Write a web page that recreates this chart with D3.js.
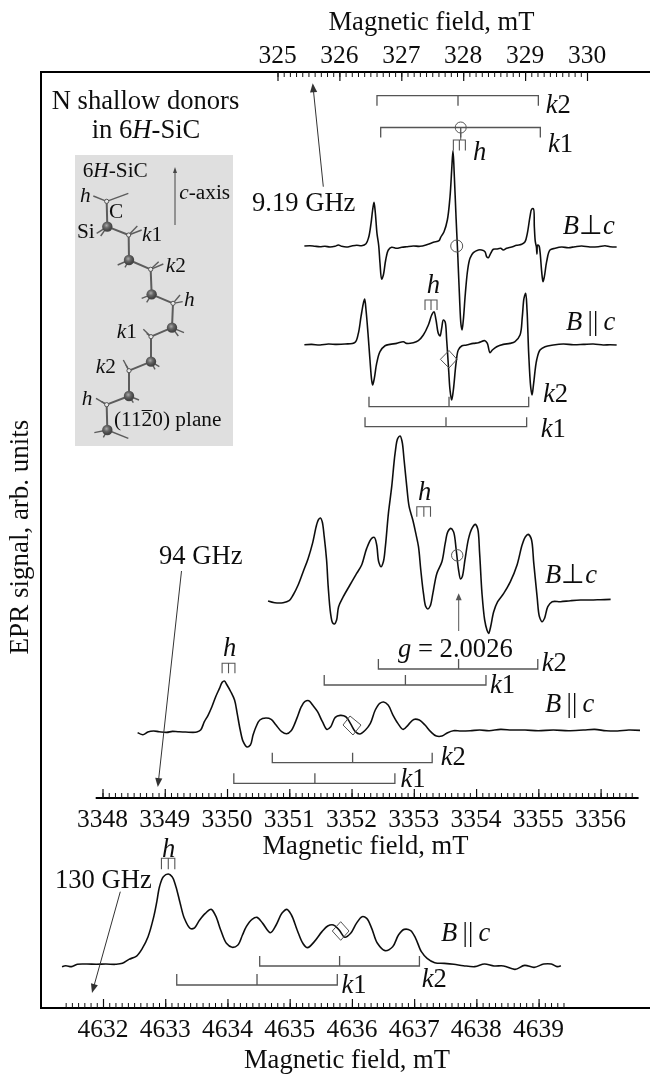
<!DOCTYPE html>
<html><head><meta charset="utf-8">
<script src="https://cdn.jsdelivr.net/npm/d3@7"></script>
<style>html,body{margin:0;background:#fff}svg{display:block}text{font-family:"Liberation Serif",serif;fill:#111}</style>
</head><body><div id="c"></div>
<script>
// ---- tick labels
const topTicks=[325,326,327,328,329,330];
const midTicks=[3348,3349,3350,3351,3352,3353,3354,3355,3356];
const botTicks=[4632,4633,4634,4635,4636,4637,4638,4639];
// ---- 9.19 GHz, B perp c
const f1=[325.434,325.525,325.606,325.687,325.767,325.848,325.929,325.983,326.037,326.117,326.198,326.279,326.360,326.430,326.473,326.511,326.537,326.559,326.581,326.607,326.634,326.656,326.683,326.710,326.748,326.791,326.844,326.925,327.006,327.087,327.194,327.302,327.410,327.518,327.609,327.636,327.690,327.744,327.787,327.814,327.835,327.857,327.884,327.911,327.938,327.965,327.981,328.002,328.035,328.072,328.110,328.164,328.245,328.298,328.352,328.379,328.406,328.444,328.487,328.541,328.605,328.648,328.702,328.783,328.864,328.945,328.999,329.036,329.079,329.106,329.133,329.149,329.165,329.182,329.192,329.203,329.225,329.241,329.268,329.289,329.311,329.348,329.402,329.483,329.591,329.699,329.806,329.914,330.049,330.183,330.291,330.372,330.479];
const s1=[0,.3,-.3,-.7,-.3,-1,-.3,1,-.3,-1,0,.7,.3,2.3,8.7,22.7,36,43.7,32.7,12.7,1,-17.3,-33.3,-29,-14,-4,-1.3,-2.3,-1.3,-.7,0,-.3,1.3,3.7,5.3,8.7,14.3,26,49.3,76,95.3,69.3,29.3,-7.3,-47.3,-79,-84,-74,-47.3,-24,-12.3,-6.7,-4,-4,-5.7,-10.7,-11.7,-7.3,-3.3,-3,-2.3,-4,-2.3,-1,.7,1.7,4.3,12.7,29.3,36.7,37.3,19.3,4.3,-.7,-8,1,0,-5.7,-25.7,-35.7,-30.7,-15.7,-4,-2.3,-1,-1.7,-.7,0,-1,-.7,.3,-.7,-1];
// ---- 9.19 GHz, B par c
const f2=[325.434,325.552,325.687,325.821,325.956,326.091,326.252,326.306,326.349,326.387,326.408,326.430,326.462,326.494,326.521,326.537,326.564,326.602,326.656,326.737,326.818,326.925,327.033,327.087,327.194,327.275,327.356,327.437,327.491,327.528,327.561,327.598,327.625,327.652,327.679,327.706,327.733,327.765,327.787,327.814,327.841,327.884,327.921,327.975,328.056,328.164,328.245,328.352,328.390,328.433,328.471,328.541,328.648,328.756,328.837,328.918,328.955,328.982,329.009,329.031,329.058,329.090,329.112,329.138,329.187,329.241,329.322,329.456,329.618,329.779,329.941,330.102,330.264,330.372,330.479];
const s2=[0,.3,-.3,.7,.3,.7,2.3,11.3,28,41.3,45.7,34.7,11.3,-15.3,-35.3,-40.3,-33.7,-18.7,-7,-1,.3,1.3,3,1.3,2,4,9.7,19.7,29.7,33,24.7,11.3,8.7,16.3,24.7,23,4.7,-25.3,-45.3,-55.3,-45.3,-18.7,-5.3,-1.3,-.3,1.3,2,4,1.3,-8,-5.3,-2,.3,1.3,3,9.7,28,46.3,51.3,34.7,-8.7,-42,-50.3,-38.7,-15.3,-5.3,-2,-.3,.7,0,.3,.7,-.3,0,-.3];
// ---- 94 GHz, B perp c
const f3=[3350.659,3350.767,3350.901,3350.997,3351.062,3351.142,3351.223,3351.303,3351.373,3351.438,3351.470,3351.502,3351.529,3351.561,3351.599,3351.625,3351.663,3351.695,3351.727,3351.760,3351.792,3351.867,3351.974,3352.082,3352.162,3352.243,3352.323,3352.366,3352.404,3352.436,3352.474,3352.511,3352.543,3352.592,3352.645,3352.699,3352.742,3352.780,3352.812,3352.844,3352.887,3352.925,3352.984,3353.032,3353.075,3353.112,3353.155,3353.193,3353.225,3353.263,3353.306,3353.370,3353.451,3353.504,3353.547,3353.595,3353.638,3353.681,3353.719,3353.751,3353.778,3353.821,3353.880,3353.934,3353.987,3354.025,3354.057,3354.095,3354.138,3354.175,3354.202,3354.234,3354.283,3354.347,3354.444,3354.551,3354.658,3354.739,3354.793,3354.836,3354.884,3354.927,3354.980,3355.018,3355.061,3355.099,3355.152,3355.222,3355.356,3355.517,3355.678,3355.839,3356.000,3356.161];
const s3=[.7,-1,-1,1,6.7,16.7,30,43.3,58.3,76.7,82.3,83.7,80,65,41.7,15,-11.7,-21,-22.3,-18.3,-5,5,16.7,28.3,36.7,53.3,63.3,64.3,56.7,40,35,40,55,88.3,115,148.3,163.3,165.7,160,141.7,115,95,81.7,68.3,55,31.7,8.3,-5,-7.3,-4.3,8.3,28.3,40,58.3,70,73.3,70,51.7,31.7,22.7,25,41.7,63.3,73.3,77.3,73.3,48.3,8.3,-18.3,-28.3,-31.7,-25,-10,0,8.3,20,36.7,56.7,65,67.3,63.3,38.3,5,-15,-20,-16.7,-5,0,0,1,1.7,1.7,2,2.3];
// ---- 94 GHz, B par c
const f4=[3348.564,3348.649,3348.728,3348.819,3348.909,3349.031,3349.121,3349.212,3349.333,3349.515,3349.576,3349.636,3349.697,3349.757,3349.818,3349.879,3349.921,3349.957,3350.000,3350.060,3350.121,3350.163,3350.212,3350.260,3350.321,3350.375,3350.418,3350.466,3350.527,3350.624,3350.709,3350.787,3350.878,3350.957,3351.030,3351.121,3351.193,3351.254,3351.314,3351.375,3351.454,3351.532,3351.605,3351.666,3351.738,3351.817,3351.908,3351.981,3352.060,3352.132,3352.223,3352.302,3352.381,3352.453,3352.514,3352.587,3352.665,3352.744,3352.829,3352.908,3352.999,3353.089,3353.180,3353.271,3353.362,3353.453,3353.544,3353.635,3353.756,3353.907,3354.059,3354.210,3354.392,3354.574,3354.786,3354.998,3355.240,3355.482,3355.725,3355.906,3356.088,3356.270,3356.452,3356.633];
const s4=[-1.1,-3.4,-.4,.8,0,-.8,.4,0,-.4,-.4,1.9,11.3,18.8,28.2,39.5,48.9,55.7,57.2,52.7,45.1,35.7,20.7,1.9,-11.3,-17.3,-15,-3.8,5.6,13.2,15.4,13.9,7.5,0,-2.3,1.1,15,28.2,34.2,35,30.1,22.6,11.3,2.6,5.6,16.2,18.4,16.9,9.4,0,-2.6,1.9,9.4,24.5,32,33.5,30.1,18.8,9.4,2.6,7.5,13.9,13.2,7.5,0,-4.9,-4.9,-1.1,1.1,.8,1.1,1.9,1.1,2.6,1.9,1.9,1.1,1.9,1.1,1.9,2.6,1.1,.8,1.9,1.5];
// ---- 130 GHz, B par c
const f5=[4631.342,4631.403,4631.495,4631.587,4631.741,4631.895,4632.048,4632.202,4632.312,4632.417,4632.540,4632.632,4632.724,4632.816,4632.865,4632.908,4632.970,4633.049,4633.111,4633.172,4633.234,4633.307,4633.400,4633.461,4633.553,4633.645,4633.738,4633.811,4633.891,4633.983,4634.075,4634.168,4634.241,4634.303,4634.395,4634.475,4634.567,4634.690,4634.782,4634.874,4634.954,4635.028,4635.120,4635.212,4635.286,4635.396,4635.519,4635.611,4635.703,4635.795,4635.888,4635.980,4636.072,4636.164,4636.238,4636.318,4636.410,4636.533,4636.655,4636.748,4636.840,4636.944,4637.024,4637.116,4637.208,4637.331,4637.485,4637.638,4637.792,4637.976,4638.130,4638.283,4638.437,4638.621,4638.775,4638.928,4639.082,4639.205,4639.297,4639.358];
const s5=[-1.9,-.8,-1.9,.8,1.1,.8,1.1,.8,1.9,6.5,10.3,19.1,32.5,55.5,72.7,89.9,101.4,104.5,101.4,89.9,72.7,53.6,42.1,42.1,51.7,59.3,63.9,56.3,40.2,24.9,20.3,23,34.4,44,52.4,54.7,47.8,37.1,45.9,59.3,63.9,57.4,40.2,24.9,19.9,26.8,38.3,44.8,45.9,40.2,31.8,36.4,47.8,55.5,53.6,42.1,24.9,16.5,21,34.4,40.9,39.4,30.6,15.3,7.7,2.7,1.9,.8,-.8,-1.9,1.1,-1.1,-1.1,-5,-.4,-2.7,1.1,1.1,-1.9,-.8];
// ---- stick diagrams (field, mT)
const top_k2=[326.607,327.916,329.214], top_k1=[326.667,327.96,329.246], top_h=[327.841,327.938,328.035];
const par9_k2=[326.478,327.771,329.058], par9_k1=[326.414,327.722,329.025], par9_h=[327.383,327.480,327.577];
const per94_k2=[3352.431,3353.719,3354.991], per94_k1=[3351.561,3352.865,3354.159], per94_h=[3353.048,3353.161,3353.268];
const par94_k2=[3350.727,3352.017,3353.295], par94_k1=[3350.109,3351.411,3352.696], par94_h=[3349.921,3350.024,3350.127];
const par130_k2=[4634.518,4635.802,4637.085], par130_k1=[4633.185,4634.475,4635.765], par130_h=[4632.939,4633.049,4633.154];
// ---- inset lattice (inset units)
const atomsC=[[320,604],[386,705],[452,808],[519,910],[453,1010],[387,1112],[320,1214]];
const atomsSi=[[322,680],[387,780],[455,883],[516,983],[453,1085],[387,1188],[322,1290]];
const stubs=[[320,604,280,588],[320,604,385,580],[322,680,290,700],[322,680,302,708],[386,705,412,678],[386,705,425,690],[387,780,353,795],[387,780,375,802],[452,808,476,785],[452,808,490,792],[455,883,425,895],[455,883,440,907],[519,910,540,885],[519,910,548,905],[516,983,552,998],[516,983,535,1008],[453,1010,430,988],[453,1010,440,1000],[453,1085,478,1100],[453,1085,465,1108],[387,1112,370,1080],[387,1112,378,1095],[387,1188,417,1200],[387,1188,400,1208],[320,1214,288,1195],[320,1214,305,1205],[322,1290,283,1298],[322,1290,385,1315],[322,1290,310,1312]];

const W=650,H=1074;
const root=d3.select("#c").append("svg").attr("width",W).attr("height",H);
const defs0=root.append("defs");
defs0.append("filter").attr("id","soft").attr("x",0).attr("y",0).attr("width",1).attr("height",1).attr("filterUnits","userSpaceOnUse")
  .attr("width",W).attr("height",H).append("feGaussianBlur").attr("stdDeviation",.35);
const svg=root.append("g").attr("filter","url(#soft)");
svg.append("rect").attr("width",W).attr("height",H).attr("fill","#fff");
const xTop=d3.scaleLinear().domain([325,330]).range([277.5,587]);
const xMid=d3.scaleLinear().domain([3348,3356]).range([102.5,600.6]);
const xBot=d3.scaleLinear().domain([4632,4639]).range([103,538.6]);
const yS=(base,k)=>d3.scaleLinear().domain([0,100]).range([base,base-100*k]);

// inset
const inset=svg.append("g");
inset.append("rect").attr("x",75).attr("y",155).attr("width",158).attr("height",291).attr("fill","#dfdfdf");
const iu=d3.scaleLinear().domain([0,300]).range([0,100]);
const chain=[];atomsC.forEach((c,i)=>{chain.push(c,atomsSi[i]);});
inset.append("path").attr("d",d3.line().x(d=>iu(d[0])).y(d=>iu(d[1]))(chain)).attr("fill","none").attr("stroke","#5c5c5c").attr("stroke-width",2);
inset.selectAll(".st").data(stubs).join("line").attr("x1",d=>iu(d[0])).attr("y1",d=>iu(d[1])).attr("x2",d=>iu(d[2])).attr("y2",d=>iu(d[3])).attr("stroke","#5c5c5c").attr("stroke-width",1.4);
const grad=defs0.append("radialGradient").attr("id","si").attr("cx","42%").attr("cy","38%");
grad.append("stop").attr("offset","0%").attr("stop-color","#aaa");
grad.append("stop").attr("offset","50%").attr("stop-color","#666");
grad.append("stop").attr("offset","100%").attr("stop-color","#444");
inset.selectAll(".si").data(atomsSi).join("circle").attr("cx",d=>iu(d[0])).attr("cy",d=>iu(d[1])).attr("r",5.2).attr("fill","url(#si)");
inset.selectAll(".cc").data(atomsC).join("circle").attr("cx",d=>iu(d[0])).attr("cy",d=>iu(d[1])).attr("r",2.1).attr("fill","#e8e8e8").attr("stroke","#555").attr("stroke-width",1);

// frame
svg.append("path").attr("d","M650,72H41V1008H650").attr("fill","none").attr("stroke","#000").attr("stroke-width",2);
svg.append("line").attr("x1",95.7).attr("x2",638.6).attr("y1",798).attr("y2",798).attr("stroke","#000").attr("stroke-width",2);

function ticks(scale,y,axisFn,from,to,labels,labelY){
  const minors=d3.range(Math.round((to-from)*10)+1).map(i=>+(from+i/10).toFixed(1));
  const g=svg.append("g").attr("transform",`translate(0,${y})`);
  g.call(axisFn(scale).tickValues(minors).tickSize(5).tickFormat(""));
  g.select(".domain").remove();
  g.selectAll("line").attr("stroke","#111").attr("stroke-width",1);
  const G=svg.append("g").attr("transform",`translate(0,${y})`);
  G.call(axisFn(scale).tickValues(labels).tickSize(9).tickFormat(""));
  G.select(".domain").remove();
  G.selectAll("line").attr("stroke","#111").attr("stroke-width",1.2);
  svg.selectAll(null).data(labels).join("text").attr("x",d=>scale(d)).attr("y",labelY).attr("text-anchor","middle").attr("font-size",25.5).text(d=>d);
}
ticks(xTop,72,d3.axisBottom,325,330,topTicks,62.7);
ticks(xMid,798,d3.axisTop,3348,3356.5,midTicks,826.7);
ticks(xBot,1008,d3.axisTop,4631.4,4639.4,botTicks,1037);

// traces
function trace(f,s,xs,ys){
  const pts=f.map((v,i)=>[v,s[i]]).filter(d=>d[1]!==undefined);
  svg.append("path").attr("d",d3.line().x(d=>xs(d[0])).y(d=>ys(d[1])).curve(d3.curveCatmullRom.alpha(.5))(pts))
    .attr("fill","none").attr("stroke","#111").attr("stroke-width",1.6).attr("stroke-linejoin","round");
}
trace(f1,s1,xTop,yS(246,1));
trace(f2,s2,xTop,yS(344.7,1));
trace(f3,s3,xMid,yS(601.7,1));
trace(f4,s4,xMid,yS(731.7,.886));
trace(f5,s5,xBot,yS(965,.871));

// stick diagrams
function bracket(v,xs,y,dy){
  svg.append("path").attr("d",`M${xs(v[0])},${y+dy}V${y}H${xs(v[2])}V${y+dy}M${xs(v[1])},${y}V${y+dy}`)
    .attr("fill","none").attr("stroke","#555").attr("stroke-width",1.3);
}
function comb(v,xs,y,h){
  svg.append("path").attr("d",`M${xs(v[0])},${y+h}V${y}H${xs(v[2])}V${y+h}M${xs(v[1])},${y}V${y+h}`)
    .attr("fill","none").attr("stroke","#555").attr("stroke-width",1.1);
}
bracket(top_k2,xTop,95.7,10);bracket(top_k1,xTop,127.5,10);comb(top_h,xTop,140,10.5);
bracket(par9_k2,xTop,406.7,-10);bracket(par9_k1,xTop,426.7,-9.5);comb(par9_h,xTop,300,10);
bracket(per94_k2,xMid,669,-10);bracket(per94_k1,xMid,685,-10);comb(per94_h,xMid,506.7,10);
bracket(par94_k2,xMid,762.7,-10);bracket(par94_k1,xMid,783.3,-10);comb(par94_h,xMid,663.3,10);
bracket(par130_k2,xBot,966,-10);bracket(par130_k1,xBot,985,-11);comb(par130_h,xBot,858.3,11);

// circles & diamonds
function circ(x,y,r){svg.append("circle").attr("cx",x).attr("cy",y).attr("r",r).attr("fill","none").attr("stroke","#555").attr("stroke-width",1);}
circ(xTop(327.96),127.5,5.5);circ(xTop(327.895),246,6);circ(xMid(3353.697),555.3,5.7);
svg.append("line").attr("x1",xTop(327.96)).attr("x2",xTop(327.96)).attr("y1",133).attr("y2",140).attr("stroke","#555");
function poly(pts){svg.append("path").attr("d","M"+pts.map(p=>p.join(",")).join("L")+"Z").attr("fill","none").attr("stroke","#555").attr("stroke-width",1);}
poly([[440.4,359.3],[449,350.5],[457,359.3],[449,368]]);
poly([[343,725],[350,716],[361,725],[353,735]]);
poly([[332.3,931],[340.7,921.7],[349,931],[340.7,940.3]]);

// arrows
function arrow(x1,y1,x2,y2,col,hl,hw){
  const a=Math.atan2(y2-y1,x2-x1),c=Math.cos(a),s=Math.sin(a);
  svg.append("line").attr("x1",x1).attr("y1",y1).attr("x2",x2-c*hl*.7).attr("y2",y2-s*hl*.7).attr("stroke",col).attr("stroke-width",1);
  svg.append("path").attr("d",`M${x2},${y2}L${x2-c*hl-s*hw},${y2-s*hl+c*hw}L${x2-c*hl+s*hw},${y2-s*hl-c*hw}Z`).attr("fill",col);
}
arrow(323.3,186.7,312.7,83.3,"#333",9,3.6);
arrow(181.5,571,157.8,787,"#333",9,3.6);
arrow(120.3,891.7,92,993,"#333",9,3.6);
arrow(458.7,631,458.7,593.3,"#555",7,3);
arrow(175,225,175,167,"#444",6,2);

// text
function label(x,y,parts,size,anchor){
  const t=svg.append("text").attr("x",x).attr("y",y).attr("font-size",size||26.6).attr("text-anchor",anchor||"start");
  parts.forEach(p=>{const s=t.append("tspan").text(p[0]);if(p[1]===1)s.attr("font-style","italic");});
  return t;
}
label(431.5,30,[["Magnetic field, mT",0]],26.6,"middle");
label(365.5,854,[["Magnetic field, mT",0]],26.6,"middle");
label(347,1068,[["Magnetic field, mT",0]],26.6,"middle");
svg.append("text").attr("transform","translate(28,537) rotate(-90)").attr("text-anchor","middle").attr("font-size",27).text("EPR signal, arb. units");
label(51.7,108.7,[["N shallow donors",0]]);
label(91.7,138,[["in 6",0],["H",1],["-SiC",0]]);
label(252,211,[["9.19 GHz",0]]);
label(159,564,[["94 GHz",0]]);
label(55,888,[["130 GHz",0]]);
const k2=[["k",1],["2",0]],k1=[["k",1],["1",0]],h=[["h",1]];
label(545.7,113,k2);label(548,151.7,k1);label(473,160,h);
label(426.7,293,h);label(543,401.7,k2);label(540.7,436.7,k1);
const perp=[["B",1],["\u22A5",0],["c",1]],par=[["B",1],["\u2009||\u2009",0],["c",1]];
label(562.7,234,perp);label(566,330,par);
label(418,500,h);label(545,582.7,perp);
label(398,656.7,[["g",1],[" = 2.0026",0]]);
label(541.7,670.7,k2);label(490,693,k1);
label(545,711.7,par);label(223,656,h);
label(440.7,765,k2);label(400.5,786.7,k1);
label(162,856.5,h);label(441,940.7,par);label(341.5,992.7,k1);label(421.8,987,k2);
// inset text
const S=21.3;
label(82.7,176.7,[["6",0],["H",1],["-SiC",0]],S);
label(179.3,199.3,[["c",1],["-axis",0]],S);
label(80,201.7,h,S);label(109,218.3,[["C",0]],S);label(77,238.3,[["Si",0]],S);
label(142,240.7,k1,S);label(165.7,272.3,k2,S);label(184,305.7,h,S);
label(116.7,337.7,k1,S);label(95.7,372.7,k2,S);label(81.7,405,h,S);
const plane=label(114,426,[["(11",0],["2",0],["0) plane",0]],S);
const p0=plane.node().getStartPositionOfChar(3),p1=plane.node().getEndPositionOfChar(3);
svg.append("line").attr("x1",p0.x).attr("x2",p1.x).attr("y1",426-15.5).attr("y2",426-15.5).attr("stroke","#111").attr("stroke-width",1);
</script></body></html>
